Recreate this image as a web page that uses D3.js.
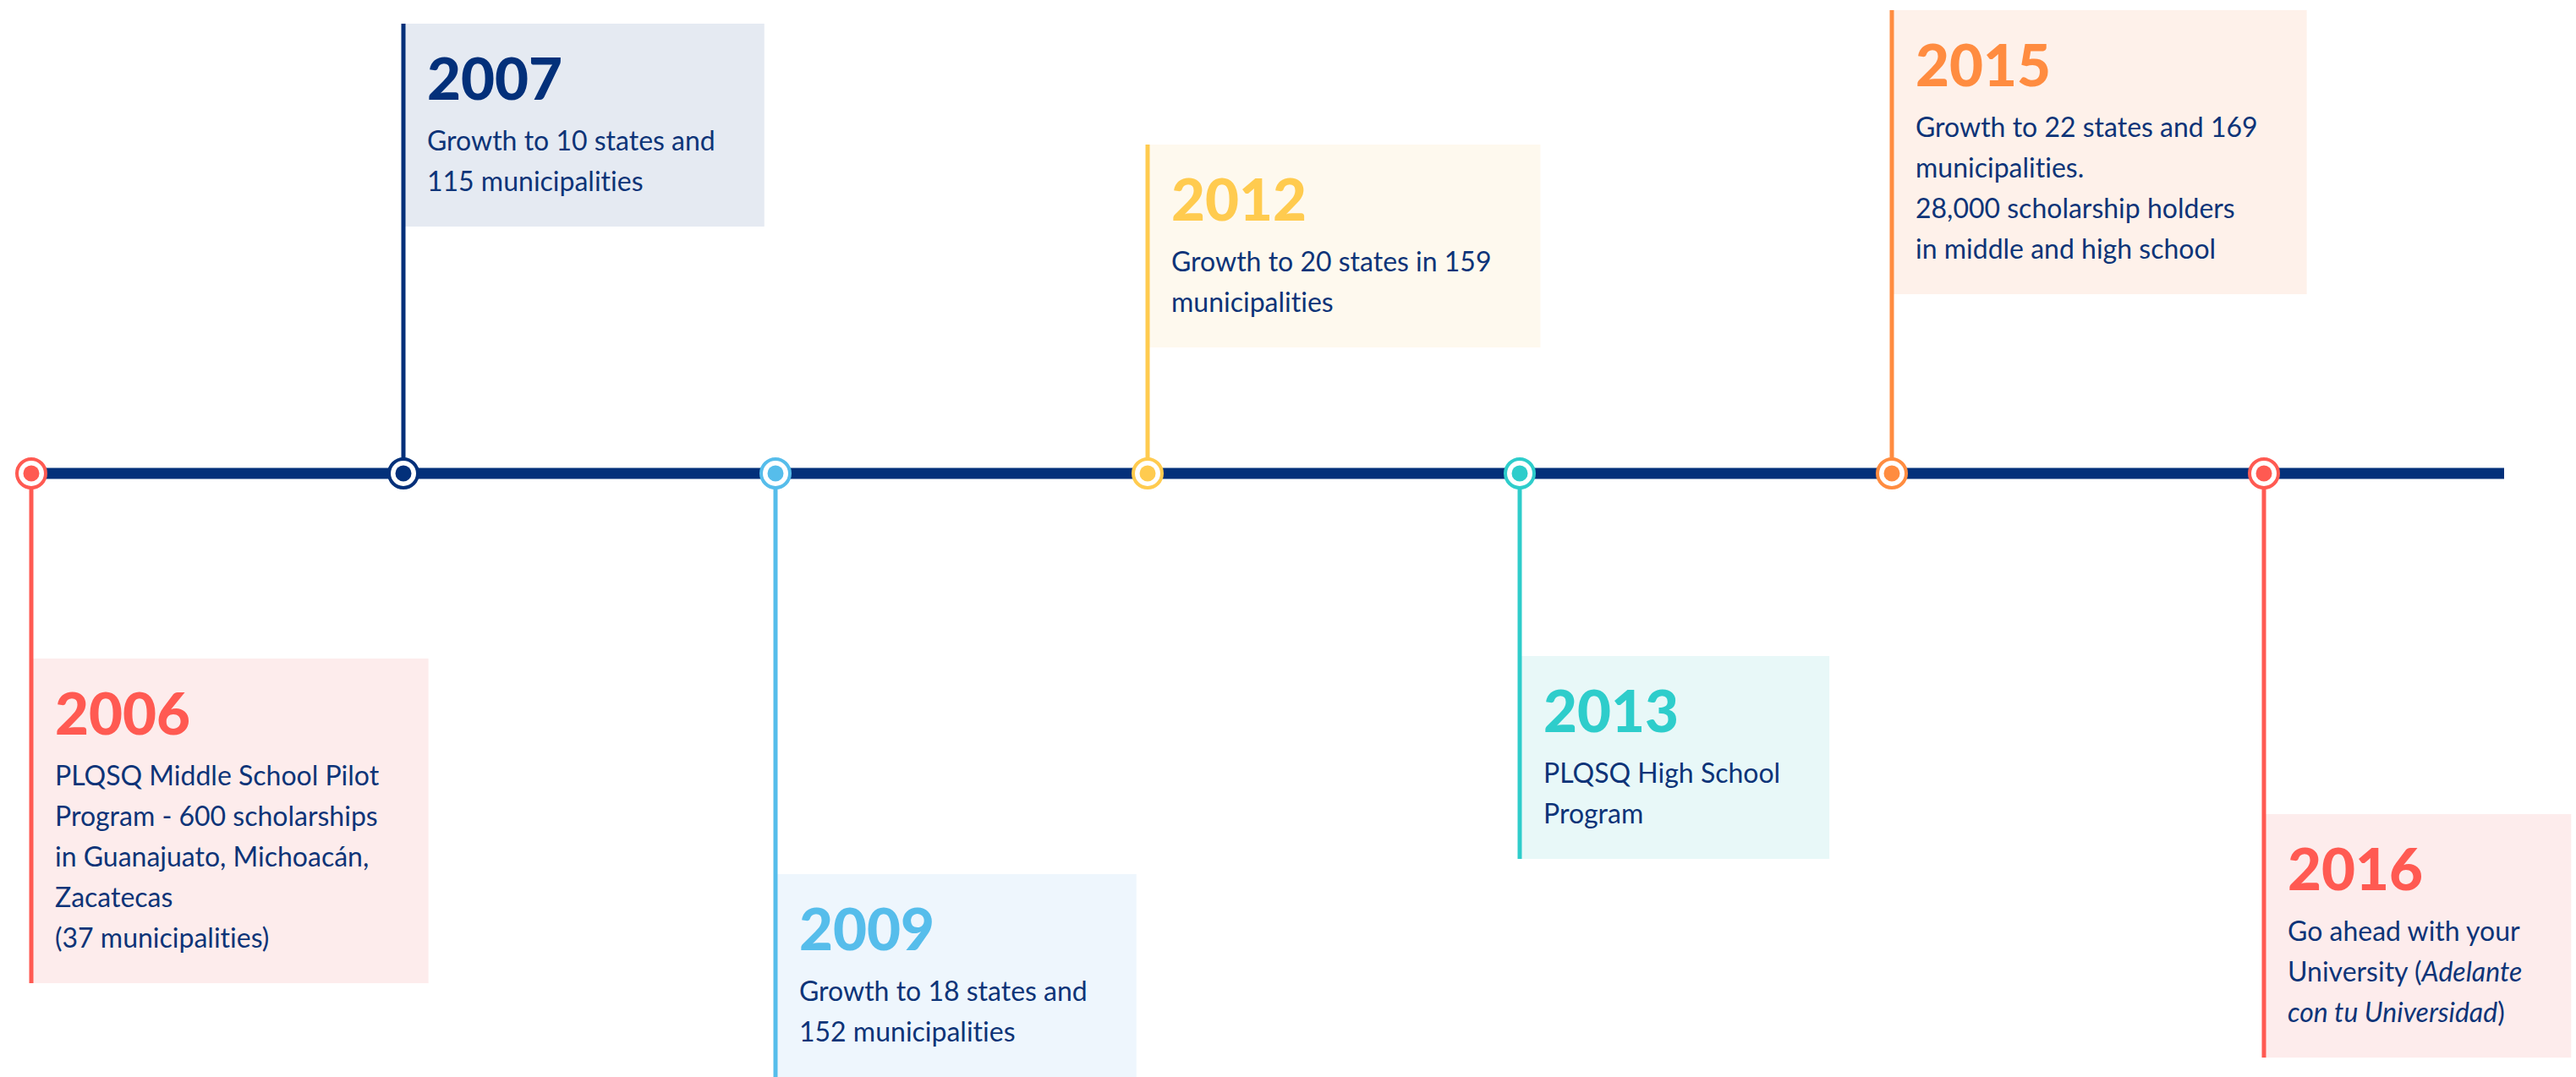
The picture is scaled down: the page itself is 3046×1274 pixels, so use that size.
<!DOCTYPE html>
<html><head><meta charset="utf-8">
<script src="https://cdn.jsdelivr.net/npm/d3@7"></script>
<style>html,body{margin:0;padding:0;background:#fff;overflow:hidden} text{font-variant-ligatures:none;font-feature-settings:"liga" 0,"clig" 0}</style>
</head><body>
<svg id="chart" width="3046" height="1274"></svg>
<script>
// ---------- data ----------
const years = ["2006", "2007", "2009", "2012", "2013", "2015", "2016"];
const descriptions = [
  ["PLQSQ Middle School Pilot", "Program - 600 scholarships", "in Guanajuato, Michoacán,", "Zacatecas", "(37 municipalities)"],
  ["Growth to 10 states and", "115 municipalities"],
  ["Growth to 18 states and", "152 municipalities"],
  ["Growth to 20 states in 159", "municipalities"],
  ["PLQSQ High School", "Program"],
  ["Growth to 22 states and 169", "municipalities.", "28,000 scholarship holders", "in middle and high school"],
  ["Go ahead with your", "University (*Adelante*", "*con tu Universidad*)"]
];

// ---------- styles ----------
const accentColors = ["#FF5A52", "#03307A", "#56BDEB", "#FFCB4F", "#2ECDCB", "#FF8C40", "#FF5A52"];
const boxFills = ["#FDECEC", "#E5EAF2", "#EEF6FD", "#FEF9EE", "#E8F8F8", "#FEF1EA", "#FDECEC"];
const navy = "#03307A";
const textNavy = "#0D3478";
const fontFamily = "Lato, 'Open Sans', sans-serif";

// ---------- layout ----------
const W = 3046, H = 1274;
const axisY = 560;
const stemReach = [603, 532, 714, 389, 456, 548, 691]; // design distance from axis to far end of each card
const lineTail = 284;
const yearOffset = 90, bodyOffset = 150, lineGap = 48, bottomPad = 42;
const textInset = 28, rightPad = 56;

const svg = d3.select("#chart");
const x = d3.scalePoint().domain(years).range([37, 2677]);

const events = years.map((y, i) => ({
  year: y, lines: descriptions[i], color: accentColors[i], fill: boxFills[i],
  up: i % 2 === 1, reach: stemReach[i]
}));

events.forEach(e => {
  e.cx = x(e.year);
  e.h = bodyOffset + (e.lines.length - 1) * lineGap + bottomPad;
  if (e.up) { e.end = axisY - e.reach; e.top = e.end; }
  else { e.end = axisY + e.reach; e.top = e.end - e.h; }
});

const gBoxes = svg.append("g");
const gStems = svg.append("g");
const gAxis = svg.append("g");
const gDots = svg.append("g");
const gText = svg.append("g");

// texts first (to measure widths)
const cards = gText.selectAll("g.card").data(events).join("g").attr("class", "card");
cards.append("text")
  .attr("x", d => d.cx + textInset)
  .attr("y", d => d.top + yearOffset)
  .attr("fill", d => d.color)
  .attr("font-family", fontFamily)
  .attr("font-weight", 900)
  .attr("font-size", 69)
  .text(d => d.year);

cards.each(function (d) {
  const g = d3.select(this);
  const t = g.append("text")
    .attr("font-family", fontFamily)
    .attr("font-size", 32)
    .attr("fill", textNavy);
  d.lines.forEach((ln, j) => {
    const parts = ln.split("*");
    let first = true;
    parts.forEach((p, k) => {
      if (!p.length) return;
      const ts = t.append("tspan").text(p).attr("font-style", k % 2 ? "italic" : "normal");
      if (first) {
        ts.attr("x", d.cx + textInset).attr("y", d.top + bodyOffset + j * lineGap);
        first = false;
      }
    });
  });
  d.textW = t.node().getBBox().width;
});

// cards background
gBoxes.selectAll("rect").data(events).join("rect")
  .attr("x", d => d.cx + 2)
  .attr("y", d => d.top)
  .attr("width", d => textInset + d.textW + rightPad)
  .attr("height", d => d.h)
  .attr("fill", d => d.fill);

// stems
gStems.selectAll("line").data(events).join("line")
  .attr("x1", d => d.cx).attr("x2", d => d.cx)
  .attr("y1", axisY).attr("y2", d => d.end)
  .attr("stroke", d => d.color)
  .attr("stroke-width", 5);

// main axis line
gAxis.append("line")
  .attr("x1", x(years[0])).attr("x2", x(years[years.length - 1]) + lineTail)
  .attr("y1", axisY).attr("y2", axisY)
  .attr("stroke", navy).attr("stroke-width", 13);

// markers
gDots.selectAll("circle.ring").data(events).join("circle").attr("class", "ring")
  .attr("cx", d => d.cx).attr("cy", axisY).attr("r", 17)
  .attr("fill", "#fff").attr("stroke", d => d.color).attr("stroke-width", 4);
gDots.selectAll("circle.dot").data(events).join("circle").attr("class", "dot")
  .attr("cx", d => d.cx).attr("cy", axisY).attr("r", 9.5)
  .attr("fill", d => d.color);
</script>
</body></html>
